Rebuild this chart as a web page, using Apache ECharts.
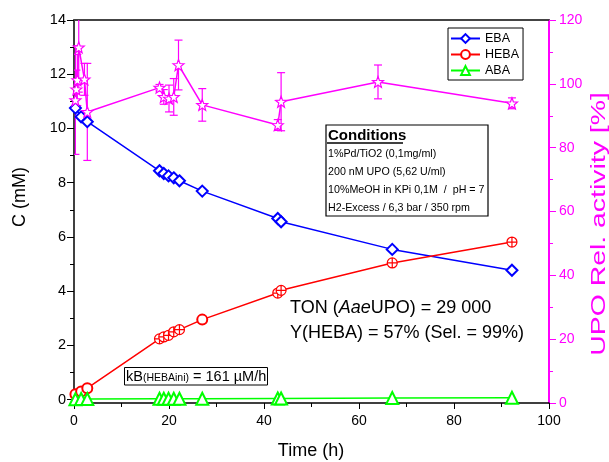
<!DOCTYPE html>
<html>
<head>
<meta charset="utf-8">
<script src="https://cdn.jsdelivr.net/npm/echarts@6/dist/echarts.min.js"></script>
<style>html,body{margin:0;padding:0;background:#fff}#c{width:609px;height:462px}</style>
</head>
<body>
<div id="c"></div>
<script>
// ---- data ----
const times = [0.3, 1.5, 2.8, 18, 18.9, 19.9, 21, 22.2, 27, 42.9, 43.6, 67, 92.2];
const eba = [10.75, 10.43, 10.25, 8.44, 8.34, 8.25, 8.18, 8.07, 7.69, 6.68, 6.56, 5.54, 4.77];
const heba = [0.2, 0.3, 0.42, 2.24, 2.31, 2.37, 2.5, 2.58, 2.95, 3.93, 4.03, 5.04, 5.81];
const aba = [0.01, 0.02, 0.02, 0.03, 0.03, 0.03, 0.03, 0.03, 0.03, 0.04, 0.04, 0.06, 0.07];
const hebaCrossed = [0, 0, 0, 1, 1, 1, 1, 1, 0, 1, 1, 1, 1];
const upoTimes = [0.3, 0.5, 0.7, 1.0, 2.2, 2.8, 18.0, 18.9, 20.0, 21.0, 22.0, 27.0, 42.9, 43.6, 64.0, 92.2];
const upoAct = [94.9, 98.3, 101.2, 111.4, 101.4, 91.2, 98.8, 95.9, 95.4, 95.9, 105.9, 93.4, 87.1, 94.4, 100.6, 93.9];
const upoErr = [17, 6, 8, 14, 5, 15.2, 1, 2.3, 4.2, 5.75, 7.8, 5.1, 1.7, 9.1, 5.3, 1.7];
const leftLabels = [0, 2, 4, 6, 8, 10, 12, 14];
const leftMinor = [1, 3, 5, 7, 9, 11, 13];
const seriesNames = ['EBA', 'HEBA', 'ABA'];
const conditions = ['1%Pd/TiO2 (0,1mg/ml)', '200 nM UPO (5,62 U/ml)', '10%MeOH in KPi 0,1M  /  pH = 7', 'H2-Excess / 6,3 bar / 350 rpm'];

const FONT = 'Liberation Sans, Arial, sans-serif';
const MAG = '#ff00ff';

function starPath() {
  let d = '';
  for (let i = 0; i < 10; i++) {
    const r = i % 2 === 0 ? 1 : 0.42;
    const a = -Math.PI / 2 + i * Math.PI / 5;
    d += (i === 0 ? 'M' : 'L') + (r * Math.cos(a)).toFixed(3) + ',' + (r * Math.sin(a)).toFixed(3) + ' ';
  }
  return 'path://' + d + 'Z';
}
const crossCircle = 'path://M0,-1 A1,1 0 1,1 0,1 A1,1 0 1,1 0,-1 Z M-1,0 L1,0 M0,-1 L0,1';

const chart = echarts.init(document.getElementById('c'), null, {renderer: 'canvas'});

const hebaData = times.map((t, i) => hebaCrossed[i]
  ? {value: [t, heba[i]], symbol: crossCircle, itemStyle: {color: '#fff', borderColor: '#ff0000', borderWidth: 1.2}}
  : {value: [t, heba[i]]});

const option = {
  animation: false,
  grid: {left: 74, right: 60, top: 20, bottom: 59, containLabel: false},
  legend: {
    data: seriesNames, orient: 'vertical', left: 448, top: 28,
    itemWidth: 29, itemHeight: 11, itemGap: 3,
    padding: [4, 4, 3, 2], borderColor: '#000', borderWidth: 1, backgroundColor: '#fff',
    textStyle: {fontFamily: FONT, fontSize: 12.5, color: '#000'}
  },
  xAxis: [{
    type: 'value', min: 0, max: 100, interval: 20, position: 'bottom',
    axisLine: {onZero: false, lineStyle: {color: '#000', width: 1.5}},
    axisTick: {inside: false, length: 6, lineStyle: {color: '#000'}},
    minorTick: {show: true, splitNumber: 2, length: 4, lineStyle: {color: '#000'}},
    splitLine: {show: false},
    axisLabel: {fontFamily: FONT, fontSize: 14, color: '#000', margin: 11}
  }, {
    type: 'value', min: 0, max: 100, position: 'top',
    axisLine: {onZero: false, lineStyle: {color: '#444', width: 2}},
    axisTick: {show: false}, axisLabel: {show: false}, splitLine: {show: false}
  }],
  yAxis: [{
    type: 'value', min: -0.125, max: 14, position: 'left',
    axisLine: {show: true, onZero: false, lineStyle: {color: '#000', width: 1.5}},
    axisTick: {show: true, inside: false, length: 7, customValues: leftLabels, lineStyle: {color: '#000'}},
    axisLabel: {fontFamily: FONT, fontSize: 14.5, color: '#000', margin: 8, customValues: leftLabels},
    splitLine: {show: false}
  }, {
    type: 'value', min: 0, max: 120, interval: 20, position: 'right',
    axisLine: {show: true, onZero: false, lineStyle: {color: MAG, width: 2}},
    axisTick: {show: true, inside: false, length: 7, lineStyle: {color: MAG}},
    minorTick: {show: true, splitNumber: 2, length: 4, lineStyle: {color: MAG}},
    axisLabel: {fontFamily: FONT, fontSize: 14, color: MAG, margin: 10},
    splitLine: {show: false}
  }, {
    type: 'value', min: -0.125, max: 14, position: 'left',
    axisLine: {show: false, onZero: false},
    axisTick: {show: true, inside: false, length: 4, customValues: leftMinor, lineStyle: {color: '#000'}},
    axisLabel: {show: false, customValues: leftMinor},
    splitLine: {show: false}
  }],
  series: [{
    name: 'EBA', type: 'line', xAxisIndex: 0, yAxisIndex: 0,
    data: times.map((t, i) => [t, eba[i]]),
    symbol: 'emptyDiamond', symbolSize: 11,
    itemStyle: {color: '#0000ff', borderWidth: 1.2},
    lineStyle: {color: '#0000ff', width: 1.5}, z: 3
  }, {
    name: 'HEBA', type: 'line', xAxisIndex: 0, yAxisIndex: 0,
    data: hebaData,
    symbol: 'emptyCircle', symbolSize: 10,
    itemStyle: {color: '#ff0000', borderWidth: 1.2},
    lineStyle: {color: '#ff0000', width: 1.5}, z: 3
  }, {
    name: 'ABA', type: 'line', xAxisIndex: 0, yAxisIndex: 0,
    data: times.map((t, i) => [t, aba[i]]),
    symbol: 'emptyTriangle', symbolSize: 12,
    itemStyle: {color: '#00ff00', borderWidth: 1.2},
    lineStyle: {color: '#00ff00', width: 1.5}, z: 3
  }, {
    name: 'UPO', type: 'line', xAxisIndex: 0, yAxisIndex: 1,
    data: upoTimes.map((t, i) => [t, upoAct[i]]),
    symbol: starPath(), symbolSize: 11,
    itemStyle: {color: '#fff', borderColor: MAG, borderWidth: 1.2},
    lineStyle: {color: MAG, width: 1.5}, z: 4
  }, {
    name: 'UPOerr', type: 'custom', xAxisIndex: 0, yAxisIndex: 1, clip: true,
    data: upoTimes.map((t, i) => [t, upoAct[i] - upoErr[i], upoAct[i] + upoErr[i]]),
    encode: {x: 0, y: [1, 2]},
    renderItem: function (params, api) {
      const x = api.value(0);
      const p1 = api.coord([x, api.value(1)]);
      const p2 = api.coord([x, api.value(2)]);
      const w = 4;
      const st = {stroke: MAG, lineWidth: 1.2};
      return {type: 'group', children: [
        {type: 'line', shape: {x1: p1[0], y1: p1[1], x2: p2[0], y2: p2[1]}, style: st},
        {type: 'line', shape: {x1: p1[0] - w, y1: p1[1], x2: p1[0] + w, y2: p1[1]}, style: st},
        {type: 'line', shape: {x1: p2[0] - w, y1: p2[1], x2: p2[0] + w, y2: p2[1]}, style: st}
      ]};
    }, z: 3
  }],
  graphic: [
    {type: 'text', x: 20, y: 197, rotation: Math.PI / 2,
      style: {text: 'C (mM)', font: '18px ' + FONT, fill: '#000', textAlign: 'center', textVerticalAlign: 'middle'}},
    {type: 'text', x: 311, y: 451,
      style: {text: 'Time (h)', font: '18px ' + FONT, fill: '#000', textAlign: 'center', textVerticalAlign: 'middle'}},
    {type: 'text', x: 599, y: 224, rotation: Math.PI / 2, scaleX: 1.42,
      style: {text: 'UPO Rel. activity [%]', font: '20px ' + FONT, fill: MAG, textAlign: 'center', textVerticalAlign: 'middle'}},
    // Conditions box
    {type: 'rect', shape: {x: 326, y: 125, width: 162, height: 91}, style: {fill: '#fff', stroke: '#000', lineWidth: 1.2}, z: 10},
    {type: 'text', x: 328, y: 136, z: 11,
      style: {text: 'Conditions', font: 'bold 15px ' + FONT, fill: '#000', textVerticalAlign: 'middle'}},
    {type: 'line', shape: {x1: 327, y1: 143, x2: 403, y2: 143}, style: {stroke: '#000', lineWidth: 1.3}, z: 11},
    ...conditions.map((s, i) => ({type: 'text', x: 328, y: 154.5 + i * 18, z: 11,
      style: {text: s, font: '10.7px ' + FONT, fill: '#000', textVerticalAlign: 'middle'}})),
    // kB box
    {type: 'rect', shape: {x: 124.5, y: 367.5, width: 143, height: 17.5}, style: {fill: '#fff', stroke: '#000', lineWidth: 1}, z: 10},
    {type: 'text', x: 126, y: 376.5, z: 11,
      style: {text: '{a|kB}{s|(HEBAini)}{a| = 161 µM/h}', textVerticalAlign: 'middle', fill: '#000',
        rich: {a: {font: '14.5px ' + FONT, fill: '#000'}, s: {font: '10.5px ' + FONT, fill: '#000', padding: [3, 0, 0, 0]}}}},
    // TON text
    {type: 'text', x: 290, y: 308, z: 11,
      style: {text: '{a|TON (}{i|Aae}{a|UPO) = 29 000}', textVerticalAlign: 'middle', fill: '#000',
        rich: {a: {font: '18px ' + FONT, fill: '#000'}, i: {font: 'italic 18px ' + FONT, fill: '#000'}}}},
    {type: 'text', x: 290, y: 333, z: 11,
      style: {text: 'Y(HEBA) = 57% (Sel. = 99%)', font: '18px ' + FONT, fill: '#000', textVerticalAlign: 'middle'}}
  ]
};
chart.setOption(option);
</script>
</body>
</html>
